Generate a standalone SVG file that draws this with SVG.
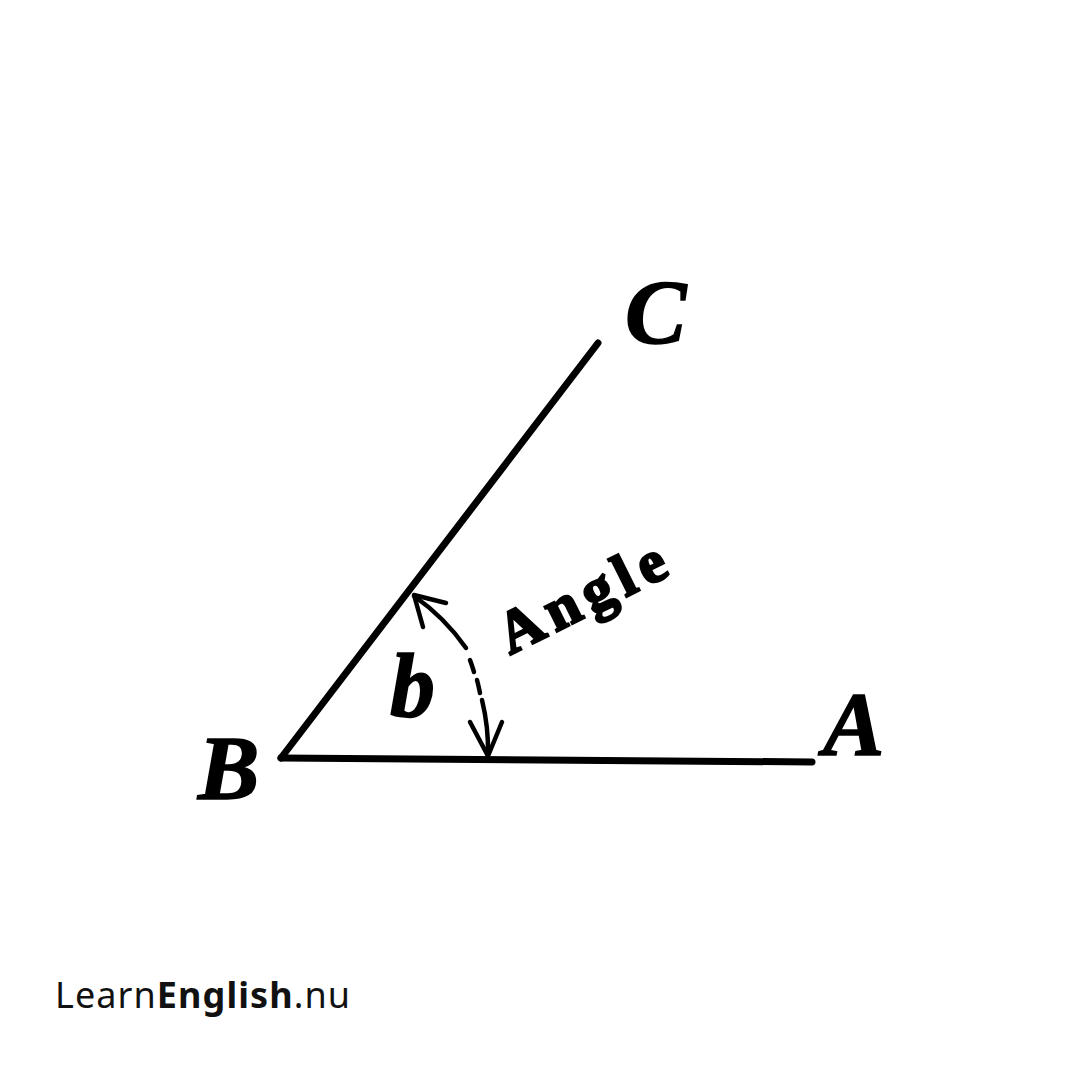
<svg xmlns="http://www.w3.org/2000/svg" width="1080" height="1080" viewBox="0 0 1080 1080">
<style>
.ln{stroke:#000;stroke-width:7;fill:none;stroke-linecap:round;stroke-linejoin:round}
.arc{stroke:#000;stroke-width:4.5;fill:none;stroke-linecap:round;stroke-linejoin:round}
.lbl{font-family:"Liberation Serif",serif;font-style:italic;font-weight:bold;fill:#000;stroke:#000;stroke-width:1.5}
</style>
<rect width="1080" height="1080" fill="#fff"/>
<g id="lines">
<path class="ln" d="M281 758 L812 762"/>
<path class="ln" d="M281 758 L598 343"/>
</g>
<g id="connectors">
<path class="arc" d="M414 596 A210 210 0 0 1 466 648"/>
<path class="arc" d="M470 660 A210 210 0 0 1 474 672"/>
<path class="arc" d="M477 680 A210 210 0 0 1 480 693"/>
<path class="arc" d="M482 700 A210 210 0 0 1 488 755"/>
<path class="arc" d="M423 627 L414 595 L446 603"/>
<path class="arc" d="M470 722 L488 756 L502 722"/>
</g>
<g id="label-C"><text class="lbl" x="625" y="343" font-size="92">C</text></g>
<g id="label-A"><text class="lbl" x="823" y="755" font-size="92">A</text></g>
<g id="label-B"><text class="lbl" x="198" y="799" font-size="92">B</text></g>
<g id="label-b"><text class="lbl" x="390" y="716" font-size="90" font-weight="normal">b</text></g>
<g id="label-angle"><text x="510" y="655" font-family="'Liberation Serif', serif" font-weight="bold" font-size="60" textLength="180" lengthAdjust="spacing" stroke="#000" stroke-width="2.5" transform="rotate(-26.5 510 655)">Angle</text></g>
<g id="footer"><text x="55" y="1008" font-family="'Noto Sans', sans-serif" font-size="36" fill="#111" textLength="295" lengthAdjust="spacing">Learn<tspan font-weight="bold">English</tspan>.nu</text></g>
</svg>
